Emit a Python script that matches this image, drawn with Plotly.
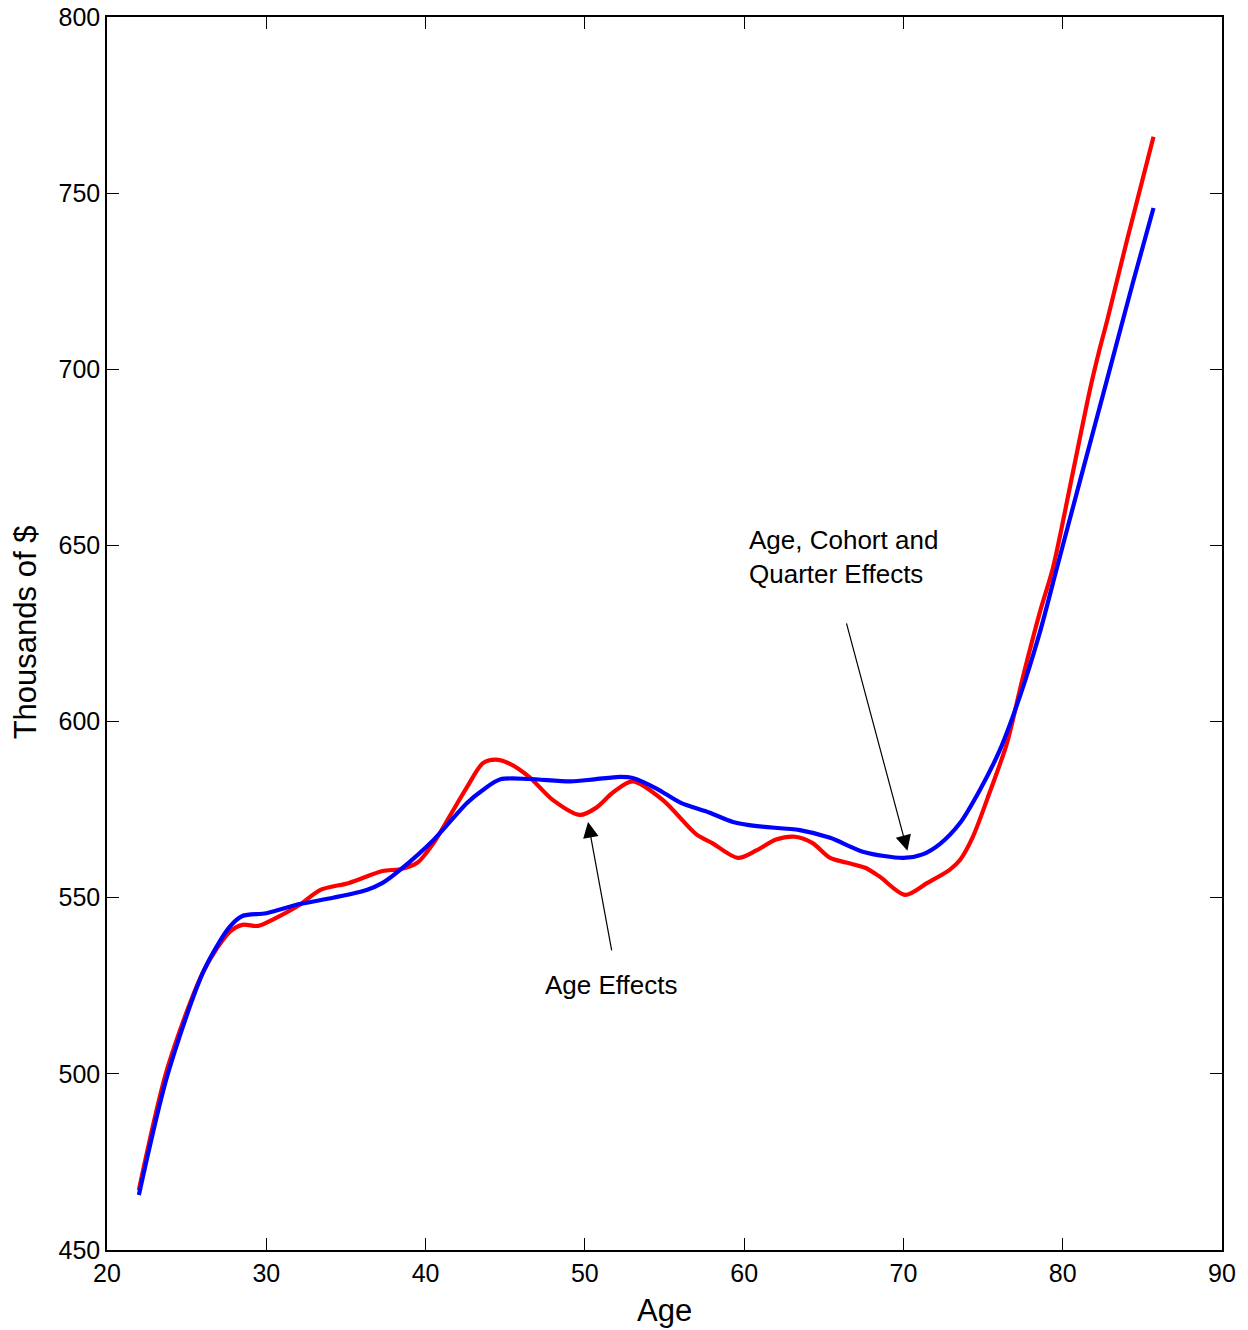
import plotly.graph_objects as go

# Age profile of wealth (thousands of $)
age_red = [22.0, 23.8, 26.1, 27.7, 28.5, 29.5, 30.5, 32.1, 33.4, 35.2, 37.3, 38.4, 39.5,
           40.5, 41.5, 42.6, 43.6, 44.4, 45.3, 46.5, 48.0, 49.7, 50.7, 51.8, 53.0, 54.9,
           57.0, 58.0, 59.6, 60.8, 62.0, 63.2, 64.3, 65.4, 66.4, 67.6, 68.5, 70.1, 71.5,
           72.9, 73.55, 74.35, 75.4, 76.5, 77.5, 78.55, 79.4, 80.65, 81.7, 82.35, 82.8,
           84.0, 85.7]
wealth_age = [467.0, 501.7, 529.5, 540.3, 542.3, 542.0, 544.0, 548.0, 552.2, 554.2, 557.6,
              558.1, 560.0, 565.5, 573.0, 581.4, 588.2, 589.2, 588.0, 584.3, 577.7, 573.5,
              575.5, 580.0, 583.0, 577.7, 568.0, 565.5, 561.3, 563.5, 566.5, 567.3, 565.5,
              561.3, 560.0, 558.5, 556.0, 550.8, 554.2, 557.9, 560.7, 567.2, 579.7, 593.9,
              612.6, 630.8, 643.9, 671.0, 694.0, 706.3, 714.0, 736.0, 766.0]

age_blue = [22.0, 23.8, 26.1, 27.7, 28.5, 30.0, 32.1, 34.2, 36.3, 37.3, 38.4, 40.5, 42.6,
            43.6, 44.7, 46.5, 49.1, 50.6, 52.2, 53.0, 54.5, 56.0, 57.8, 59.3, 60.8, 63.5,
            65.4, 67.5, 70.0, 71.2, 72.3, 73.55, 74.8, 76.05, 77.3, 78.55, 79.65, 81.1,
            82.75, 84.4, 85.7]
wealth_full = [465.6, 499.7, 529.5, 541.7, 544.8, 545.6, 548.2, 550.0, 552.2, 554.2, 557.9,
               566.4, 576.9, 580.6, 583.6, 583.7, 583.0, 583.6, 584.3, 584.0, 581.0, 577.0,
               574.2, 571.5, 570.3, 569.2, 567.0, 563.0, 561.3, 562.3, 565.3, 571.2, 580.6,
               591.9, 607.0, 625.1, 643.9, 668.6, 696.5, 724.5, 745.8]

x_ticks = [20, 30, 40, 50, 60, 70, 80, 90]
y_ticks = [450, 500, 550, 600, 650, 700, 750, 800]

FONT = "Liberation Sans, Arial, sans-serif"

fig = go.Figure()
fig.add_trace(go.Scatter(x=age_red, y=wealth_age, mode="lines", name="Age Effects",
                         line=dict(color="#ff0000", width=4.2, shape="spline", smoothing=0.8)))
fig.add_trace(go.Scatter(x=age_blue, y=wealth_full, mode="lines",
                         name="Age, Cohort and Quarter Effects",
                         line=dict(color="#0000ff", width=4.2, shape="spline", smoothing=0.8)))

axis_common = dict(showgrid=False, zeroline=False, showline=True, linecolor="black",
                   linewidth=1.5, mirror="ticks", ticks="inside", ticklen=12,
                   tickcolor="black", tickwidth=1, automargin=False,
                   tickfont=dict(family=FONT, size=25, color="black"))

fig.update_xaxes(range=[20, 90], tickvals=x_ticks, ticktext=[str(v) for v in x_ticks],
                 **axis_common)
fig.update_yaxes(range=[450, 800], tickvals=y_ticks, ticktext=[str(v) for v in y_ticks],
                 **axis_common)

# Axis titles
fig.add_annotation(x=0.4996, y=-0.0487, xref="paper", yref="paper", text="Age",
                   showarrow=False, xanchor="center", yanchor="middle",
                   font=dict(family=FONT, size=31, color="black"))
fig.add_annotation(x=-0.0735, y=0.501, xref="paper", yref="paper", text="Thousands of $",
                   showarrow=False, textangle=-90, xanchor="center", yanchor="middle",
                   font=dict(family=FONT, size=31, color="black"))

# Arrow annotations
fig.add_annotation(x=50.2, y=571.5, ax=51.7, ay=534.6, xref="x", yref="y", axref="x", ayref="y",
                   text="", showarrow=True, arrowhead=2, arrowsize=2.6, arrowwidth=1.2,
                   arrowcolor="black")
fig.add_annotation(x=51.7, y=525.2, xref="x", yref="y", text="Age Effects", showarrow=False,
                   font=dict(family=FONT, size=26, color="black"))
fig.add_annotation(x=70.25, y=563.3, ax=66.4, ay=628.3, xref="x", yref="y", axref="x", ayref="y",
                   text="", showarrow=True, arrowhead=2, arrowsize=2.6, arrowwidth=1.2,
                   arrowcolor="black")
fig.add_annotation(x=60.2, y=646.8, xref="x", yref="y", xanchor="left",
                   text="Age, Cohort and<br>Quarter Effects", showarrow=False, align="left",
                   font=dict(family=FONT, size=26, color="black"))

fig.update_layout(width=1248, height=1330, showlegend=False,
                  paper_bgcolor="white", plot_bgcolor="white",
                  margin=dict(l=107, r=26, t=17, b=80),
                  font=dict(family=FONT, color="black"))

fig.write_html("out.html")
